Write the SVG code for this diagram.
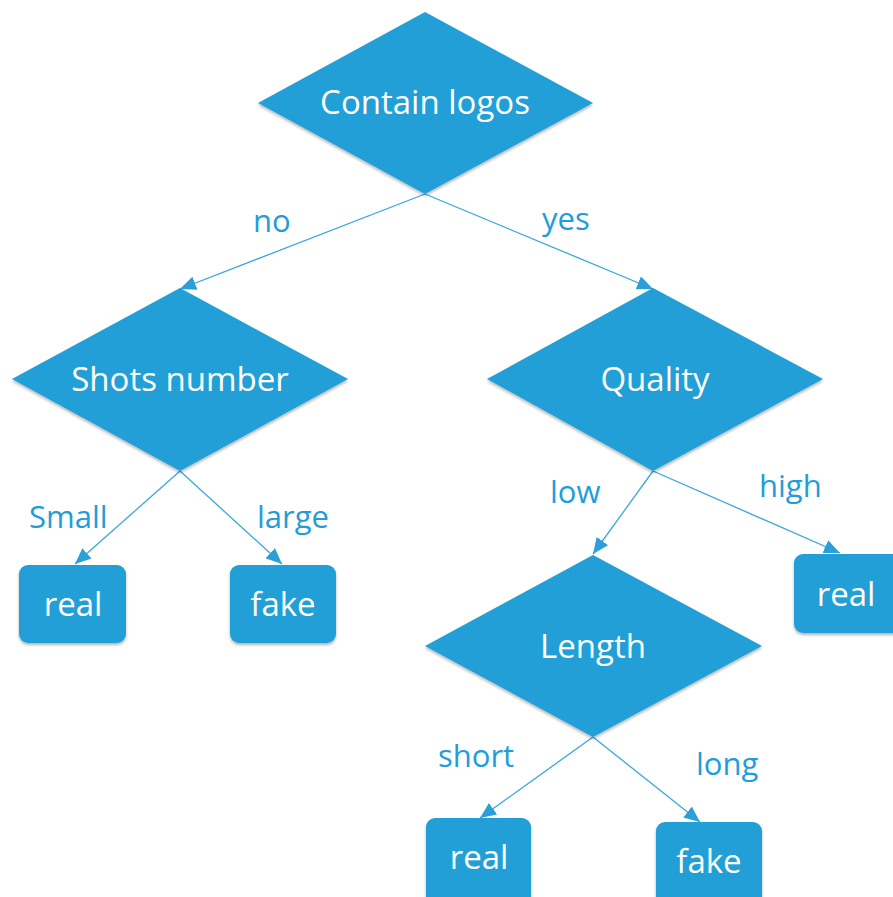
<svg xmlns="http://www.w3.org/2000/svg" width="893" height="897" viewBox="0 0 893 897">
<defs>
<marker id="arr" markerUnits="userSpaceOnUse" markerWidth="18" markerHeight="14" refX="16" refY="7" orient="auto">
<path d="M0,0 L16,7 L0,14 Z" fill="#2A9FD8"/>
</marker>
<filter id="sh" x="-5%" y="-5%" width="110%" height="115%">
<feGaussianBlur in="SourceAlpha" stdDeviation="1.5"/>
<feOffset dx="0" dy="1.5" result="b"/>
<feComponentTransfer><feFuncA type="linear" slope="0.3"/></feComponentTransfer>
<feMerge><feMergeNode/><feMergeNode in="SourceGraphic"/></feMerge>
</filter>
</defs>
<style>
.shape{fill:#209FD7;filter:url(#sh)}
.nt{font-family:"Open Sans","Noto Sans",sans-serif;font-size:33px;fill:#ffffff;text-anchor:middle}
.lb{font-family:"Open Sans","Noto Sans",sans-serif;font-size:31px;fill:#229DD9}
.edge{stroke:#3AA7DC;stroke-width:1.3;fill:none;marker-end:url(#arr)}
</style>
<rect width="893" height="897" fill="#ffffff"/>
<g id="connectors">
<line class="edge" x1="425" y1="194" x2="180" y2="289"/>
<line class="edge" x1="425" y1="194" x2="653" y2="289"/>
<line class="edge" x1="180" y1="471" x2="75" y2="564"/>
<line class="edge" x1="180" y1="471" x2="282" y2="564"/>
<line class="edge" x1="653" y1="471" x2="593" y2="554"/>
<line class="edge" x1="653" y1="471" x2="840" y2="553"/>
<line class="edge" x1="593" y1="737" x2="480" y2="818"/>
<line class="edge" x1="593" y1="737" x2="700" y2="822"/>
</g>
<g id="labels">
<text class="lb" x="253" y="232">no</text>
<text class="lb" x="542" y="230">yes</text>
<text class="lb" x="29" y="528">Small</text>
<text class="lb" x="257" y="528">large</text>
<text class="lb" x="550" y="503">low</text>
<text class="lb" x="759" y="497">high</text>
<text class="lb" x="438" y="767">short</text>
<text class="lb" x="696" y="775">long</text>
</g>
<g id="n-contain">
<polygon class="shape" points="425,12 593,103 425,194 258,103"/>
<text class="nt" x="425" y="114">Contain logos</text>
</g>
<g id="n-shots">
<polygon class="shape" points="180,288 348,379 180,471 12,379"/>
<text class="nt" x="180" y="391">Shots number</text>
</g>
<g id="n-quality">
<polygon class="shape" points="653,288 823,379 653,471 487,379"/>
<text class="nt" x="655" y="391">Quality</text>
</g>
<g id="n-length">
<polygon class="shape" points="593,555 762,646 593,737 425,646"/>
<text class="nt" x="593" y="658">Length</text>
</g>
<g id="n-real1">
<rect class="shape" x="19" y="565" width="107" height="78" rx="9"/>
<text class="nt" x="73" y="616">real</text>
</g>
<g id="n-fake1">
<rect class="shape" x="230" y="565" width="106" height="78" rx="9"/>
<text class="nt" x="283" y="616">fake</text>
</g>
<g id="n-real2">
<rect class="shape" x="794" y="554" width="110" height="79" rx="9"/>
<text class="nt" x="846" y="606">real</text>
</g>
<g id="n-real3">
<rect class="shape" x="426" y="818" width="105" height="90" rx="9"/>
<text class="nt" x="479" y="869">real</text>
</g>
<g id="n-fake2">
<rect class="shape" x="656" y="822" width="106" height="90" rx="9"/>
<text class="nt" x="709" y="873">fake</text>
</g>
</svg>
